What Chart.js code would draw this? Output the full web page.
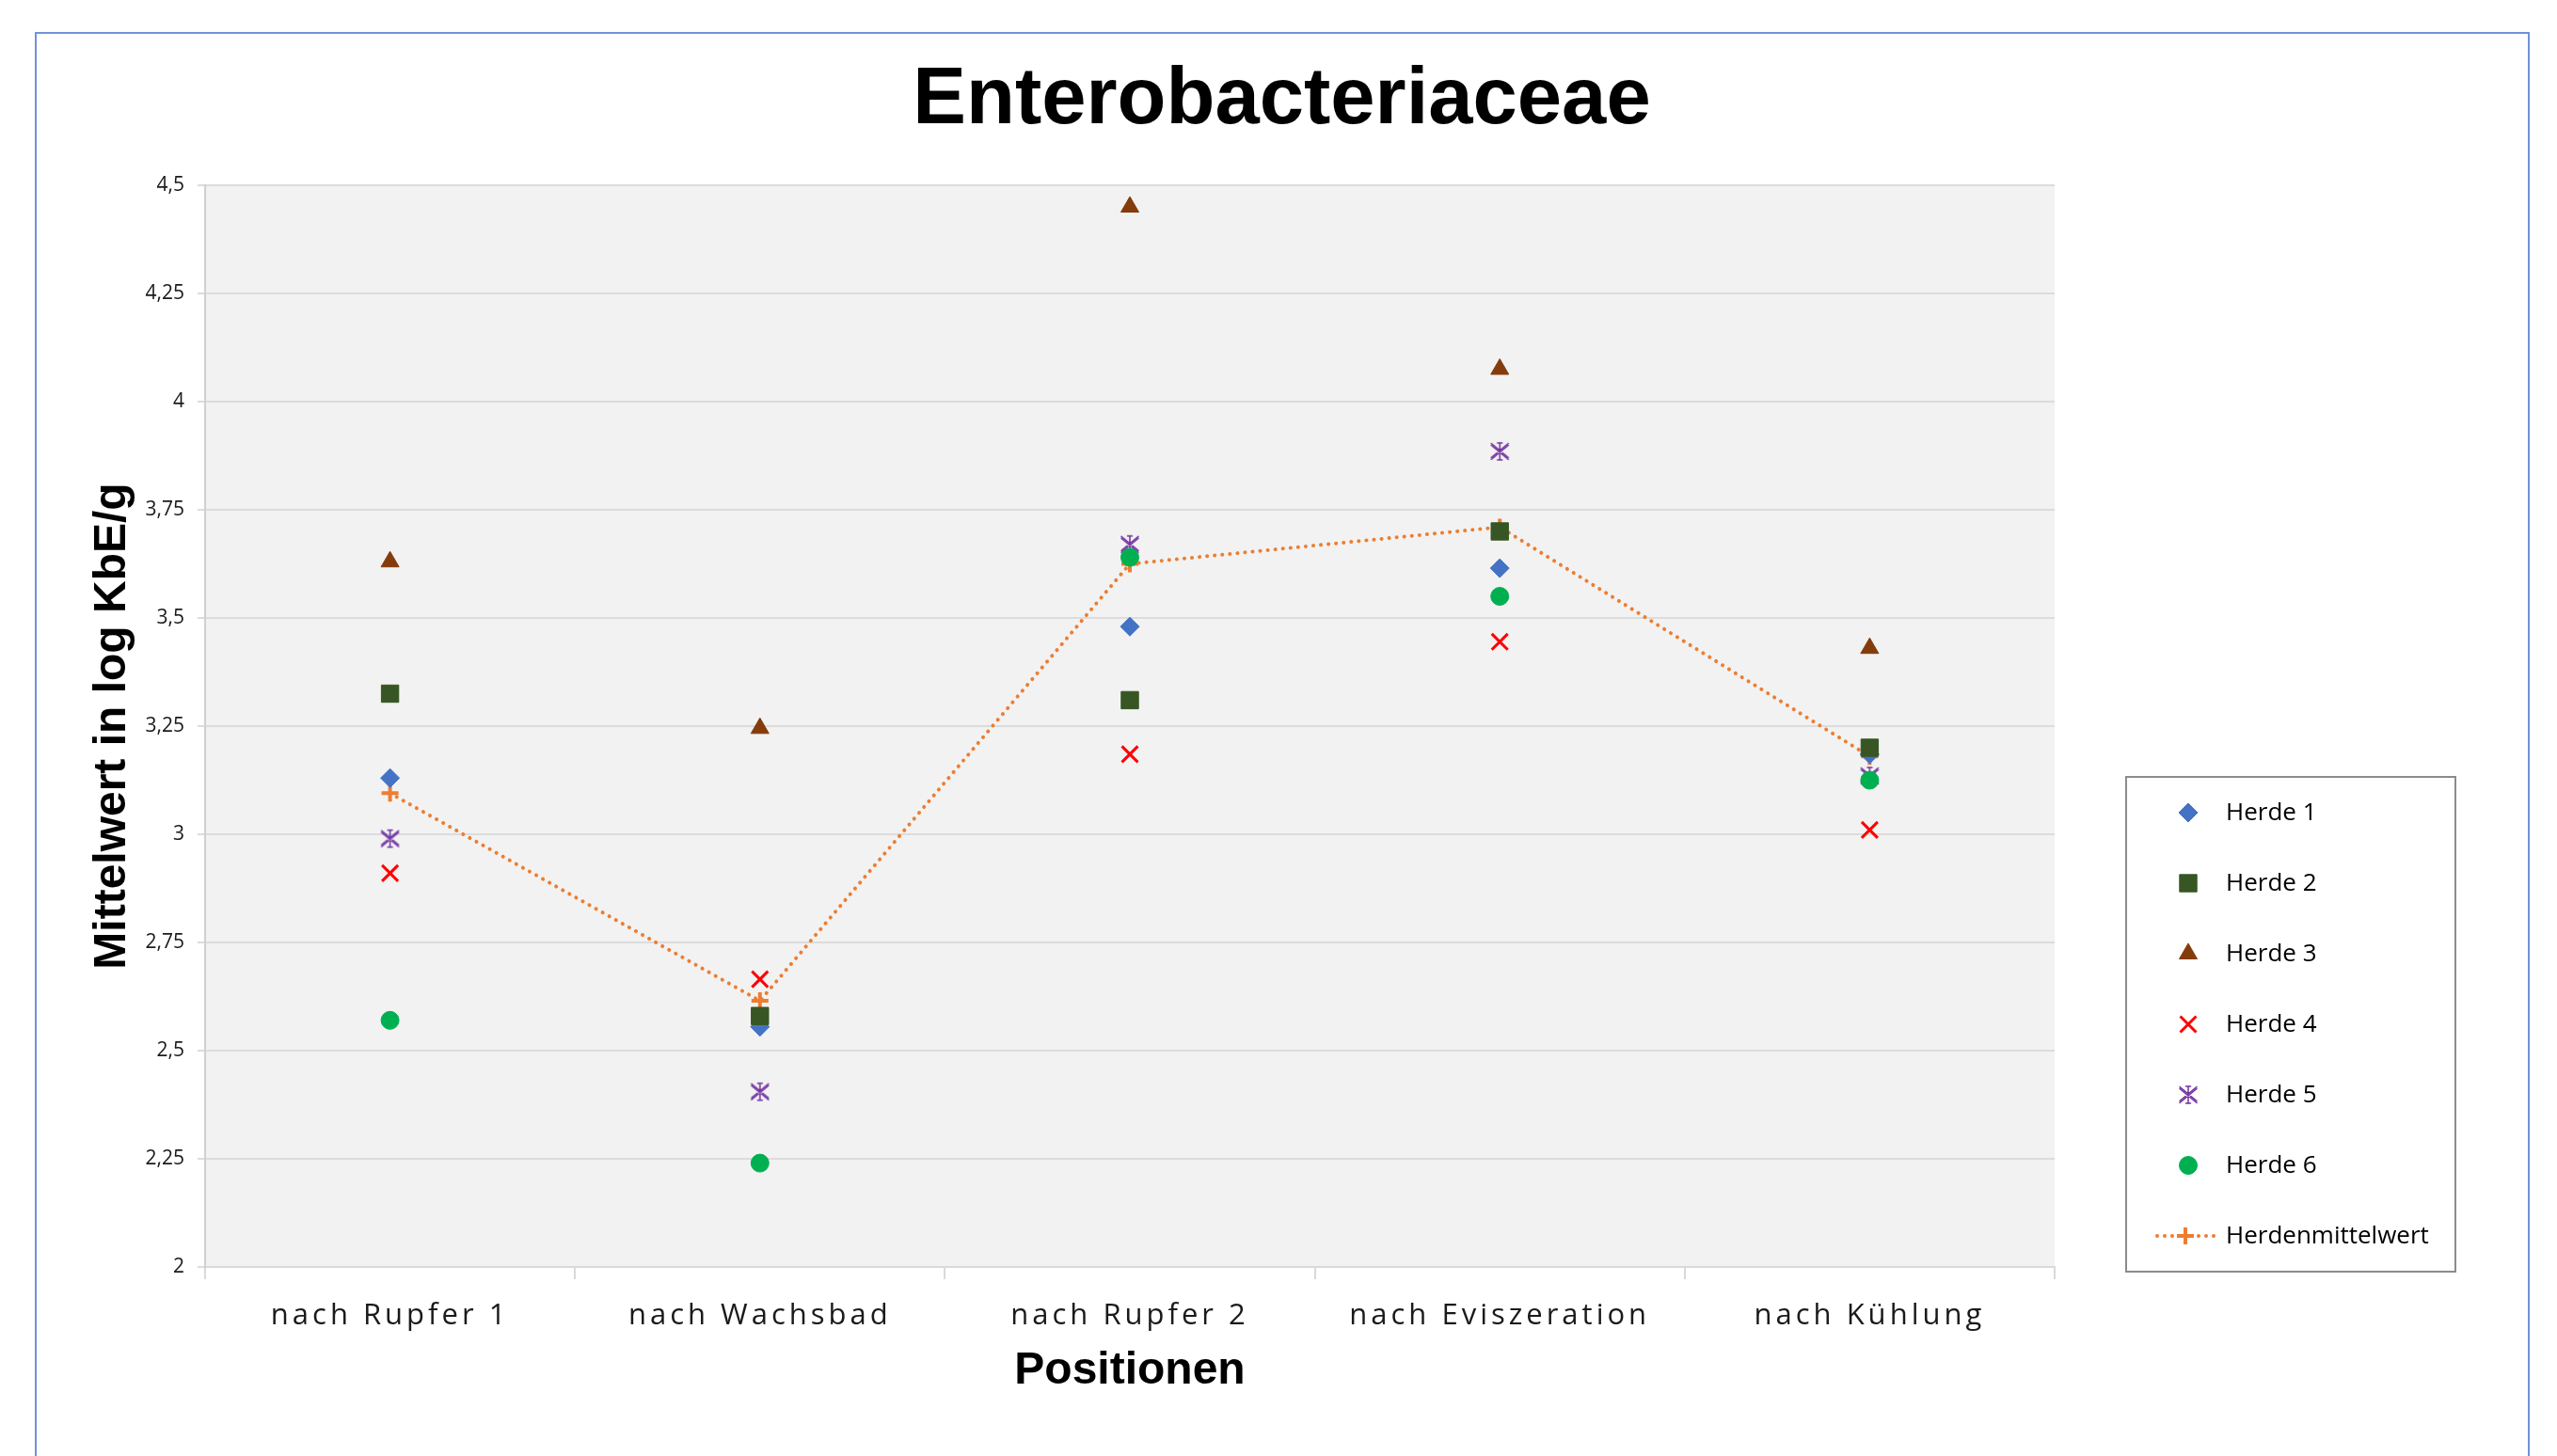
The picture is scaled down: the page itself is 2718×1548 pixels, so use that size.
<!DOCTYPE html>
<html>
<head>
<meta charset="utf-8">
<script src="https://cdn.jsdelivr.net/npm/chart.js@4.4.1/dist/chart.umd.min.js"></script>
<style>
  html, body { margin: 0; padding: 0; background: #ffffff; overflow: hidden; }
  #wrap { position: relative; width: 2718px; height: 1548px; }
  #frame { position: absolute; left: 37px; top: 34px; width: 2648px; height: 1600px;
           border: 2px solid #6f93d8; pointer-events: none; }
  canvas { display: block; }
</style>
</head>
<body>
<div id="wrap">
  <canvas id="c" width="2718" height="1548"></canvas>
  <div id="frame"></div>
</div>
<script>
// ---- data ----
const categories = ['nach Rupfer 1', 'nach Wachsbad', 'nach Rupfer 2', 'nach Eviszeration', 'nach Kühlung'];
const seriesNames = ['Herde 1', 'Herde 2', 'Herde 3', 'Herde 4', 'Herde 5', 'Herde 6', 'Herdenmittelwert'];
const herde1 = [3.13, 2.555, 3.48, 3.615, 3.185];
const herde2 = [3.325, 2.58, 3.31, 3.70, 3.20];
const herde3 = [3.63, 3.245, 4.45, 4.075, 3.43];
const herde4 = [2.91, 2.665, 3.185, 3.445, 3.01];
const herde5 = [2.99, 2.405, 3.67, 3.885, 3.135];
const herde6 = [2.57, 2.24, 3.64, 3.55, 3.125];
const herdenmittelwert = [3.095, 2.615, 3.625, 3.71, 3.18];
const yTicks = [2, 2.25, 2.5, 2.75, 3, 3.25, 3.5, 3.75, 4, 4.25, 4.5];

// ---- custom marker images ----
function makeStar(color) {
  const c = document.createElement('canvas');
  c.width = 26; c.height = 26;
  const g = c.getContext('2d');
  g.strokeStyle = color; g.lineWidth = 1.5; g.lineCap = 'round';
  const cx = 13, cy = 13, r = 9, h = 7.5;
  g.beginPath();
  for (const d of [-1, 1]) {
    g.moveTo(cx - r, cy - h + d); g.lineTo(cx + r, cy + h + d);
    g.moveTo(cx - r, cy + h + d); g.lineTo(cx + r, cy - h + d);
  }
  g.moveTo(cx, cy - 9); g.lineTo(cx, cy + 9);
  g.moveTo(cx - 2.5, cy - 9); g.lineTo(cx + 2.5, cy - 9);
  g.moveTo(cx - 2.5, cy + 9); g.lineTo(cx + 2.5, cy + 9);
  g.stroke();
  return c;
}
function makeMeanLegend(color) {
  const c = document.createElement('canvas');
  c.width = 66; c.height = 24;
  const g = c.getContext('2d');
  g.fillStyle = color;
  for (const x of [3, 11, 19, 47, 55, 63]) { g.beginPath(); g.arc(x, 12, 2, 0, Math.PI * 2); g.fill(); }
  g.strokeStyle = color; g.lineWidth = 4;
  g.beginPath(); g.moveTo(24, 12); g.lineTo(42, 12); g.moveTo(33, 3); g.lineTo(33, 21); g.stroke();
  return c;
}
const starImg = makeStar('#7030a0');
const meanLegendImg = makeMeanLegend('#ed7d31');

function pointSet(label, data, style, radius, fill, stroke, bw, order) {
  return {
    label, data, type: 'line', showLine: false, order,
    pointStyle: style, pointRadius: radius, pointHoverRadius: radius,
    pointBackgroundColor: fill, pointBorderColor: stroke, pointBorderWidth: bw,
    backgroundColor: fill, borderColor: stroke
  };
}

const datasets = [
  pointSet(seriesNames[0], herde1, 'rectRot', 10, '#4472c4', '#4472c4', 1, 6),
  pointSet(seriesNames[1], herde2, 'rect', 13, '#375623', '#375623', 1, 5),
  pointSet(seriesNames[2], herde3, 'triangle', 11, '#843c0c', '#843c0c', 1, 4),
  pointSet(seriesNames[3], herde4, 'crossRot', 12, '#ff0000', '#ff0000', 3, 3),
  pointSet(seriesNames[4], herde5, starImg, 12, '#7030a0', '#7030a0', 1.5, 2),
  pointSet(seriesNames[5], herde6, 'circle', 9.5, '#00b050', '#00b050', 1, 1),
  {
    label: seriesNames[6], data: herdenmittelwert, type: 'line', showLine: true, order: 7,
    borderColor: '#ed7d31', borderWidth: 4, borderDash: [0.1, 8], borderCapStyle: 'round',
    fill: false, tension: 0,
    pointStyle: 'cross', pointRadius: 9, pointHoverRadius: 9,
    pointBorderColor: '#ed7d31', pointBackgroundColor: '#ed7d31', pointBorderWidth: 4,
    legendImage: meanLegendImg
  }
];

// ---- plugins ----
const backgroundPlugin = {
  id: 'bg',
  beforeDraw(chart) {
    const { ctx, chartArea: a } = chart;
    ctx.save();
    ctx.letterSpacing = '0px';
    ctx.fillStyle = '#ffffff';
    ctx.fillRect(0, 0, chart.width, chart.height);
    ctx.fillStyle = '#f2f2f2';
    ctx.fillRect(a.left, a.top, a.right - a.left, a.bottom - a.top);
    ctx.restore();
  },
  afterDatasetsDraw(chart) {
    // x tick labels (z: 1) are drawn right after this hook: give them letter spacing
    chart.ctx.letterSpacing = '4px';
  },
  afterDraw(chart) {
    const ctx = chart.ctx;
    ctx.letterSpacing = '0px';
    const a = chart.chartArea;
    ctx.save();
    ctx.strokeStyle = '#d9d9d9'; ctx.lineWidth = 2;
    ctx.beginPath(); ctx.moveTo(a.right, a.bottom); ctx.lineTo(a.right, a.bottom + 13); ctx.stroke();
    ctx.restore();
  }
};

const boxLegendPlugin = {
  id: 'boxLegend',
  afterDraw(chart) {
    const ctx = chart.ctx;
    const box = { x: 2260, y: 826, w: 350, h: 526 };
    const markerX = 2326, textX = 2366, firstY = 864, step = 75;
    ctx.save();
    ctx.letterSpacing = '0px';
    ctx.fillStyle = '#ffffff';
    ctx.fillRect(box.x, box.y, box.w, box.h);
    ctx.strokeStyle = '#8c8c8c'; ctx.lineWidth = 2;
    ctx.strokeRect(box.x, box.y, box.w, box.h);
    chart.data.datasets.forEach((ds, i) => {
      const y = firstY + i * step;
      if (ds.legendImage) {
        const img = ds.legendImage;
        ctx.drawImage(img, markerX - 3 - img.width / 2, y - img.height / 2);
      } else {
        ctx.fillStyle = ds.pointBackgroundColor;
        ctx.strokeStyle = ds.pointBorderColor;
        ctx.lineWidth = ds.pointBorderWidth;
        Chart.helpers.drawPoint(ctx, {
          pointStyle: ds.pointStyle, radius: ds.pointRadius,
          borderWidth: ds.pointBorderWidth, rotation: 0
        }, markerX, y);
      }
      ctx.fillStyle = '#000000';
      ctx.font = '26px "Open Sans"';
      ctx.textAlign = 'left';
      ctx.textBaseline = 'middle';
      ctx.fillText(ds.label, textX, y + 1);
    });
    ctx.restore();
  }
};

new Chart(document.getElementById('c'), {
  type: 'line',
  data: { labels: categories, datasets },
  plugins: [backgroundPlugin, boxLegendPlugin],
  options: {
    responsive: false,
    animation: false,
    events: [],
    layout: { padding: { left: 38, right: 31, top: 0, bottom: 61 } },
    plugins: {
      legend: { display: false },
      tooltip: { enabled: false },
      title: {
        display: true, text: 'Enterobacteriaceae', color: '#000000',
        font: { family: 'Liberation Sans', size: 85, weight: 'bold', lineHeight: 1.2 },
        padding: { top: 57, bottom: 38 }
      }
    },
    scales: {
      x: {
        type: 'category', offset: true,
        grid: { display: true, drawOnChartArea: false, drawTicks: true, tickLength: 13,
                offset: true, color: '#d9d9d9', lineWidth: 2 },
        border: { display: true, color: '#d9d9d9', width: 2 },
        ticks: { font: { family: 'Open Sans', size: 31 }, color: '#1a1a1a', padding: 21,
                 maxRotation: 0, autoSkip: false, z: 1 },
        title: { display: true, text: 'Positionen', color: '#000000',
                 font: { family: 'Liberation Sans', size: 48, weight: 'bold', lineHeight: 1.2 },
                 padding: { top: 0, bottom: 0 } },
        afterFit(s) { s.height = 140; }
      },
      y: {
        position: 'left', min: yTicks[0], max: yTicks[yTicks.length - 1],
        afterBuildTicks(s) { s.ticks = yTicks.map(v => ({ value: v })); },
        grid: { color: '#dcdcdc', lineWidth: 2, drawTicks: true, tickLength: 8 },
        border: { display: true, color: '#d0d0d0', width: 2 },
        ticks: { font: { family: 'Open Sans', size: 21 }, color: '#1a1a1a', padding: 14,
                 callback: v => String(v).replace('.', ',') },
        title: { display: true, text: 'Mittelwert in log KbE/g', color: '#000000',
                 font: { family: 'Liberation Sans', size: 48, weight: 'bold', lineHeight: 1.2 },
                 padding: { top: 53, bottom: 0 } },
        afterFit(s) { s.width = 180; }
      },
      yRight: {
        position: 'right', display: true,
        grid: { display: false, drawTicks: false },
        border: { display: false },
        ticks: { display: false },
        afterFit(s) { s.width = 503; }
      }
    }
  }
});
</script>
</body>
</html>
